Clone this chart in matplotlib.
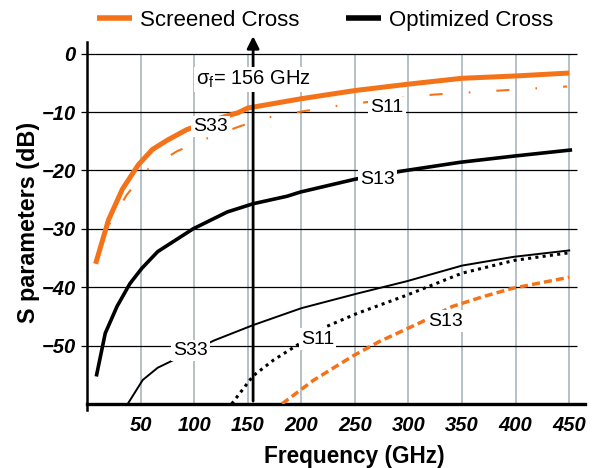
import matplotlib
matplotlib.use("Agg")
import matplotlib.pyplot as plt

plt.rcParams['font.family'] = ['Liberation Sans', 'DejaVu Sans']
plt.rcParams['mathtext.fontset'] = 'custom'
plt.rcParams['mathtext.rm'] = 'Liberation Sans'
plt.rcParams['mathtext.it'] = 'Liberation Sans:italic'

ORANGE = '#f47318'

# Screened cross
scr_s33_f = [8, 20, 33, 48, 61, 75, 93, 115, 141, 150, 200, 250, 300, 350, 400, 450]
scr_s33 = [-36, -28.5, -23.2, -19, -16.4, -14.8, -13, -11.5, -10.1, -9.3, -7.7, -6.3, -5.2, -4.2, -3.8, -3.3]
scr_s11_f = [8, 20, 37, 55, 84, 112, 143, 169, 200, 230, 256, 290, 323, 385, 448]
scr_s11 = [-35.5, -29.5, -24.2, -20, -16.7, -14.5, -12.4, -10.9, -9.9, -9.0, -8.4, -7.6, -7.0, -6.3, -5.6]
scr_s13_f = [182, 211, 248, 273, 313, 341, 370, 397, 450]
scr_s13 = [-60, -56, -51.8, -49.3, -45.9, -43.3, -41.6, -40.2, -38.3]

# Optimized cross
opt_s13_f = [9, 17, 28, 40, 51, 66, 99, 131, 155, 187, 199, 250, 294, 348, 400, 451]
opt_s13 = [-55, -47.9, -43.3, -39.4, -36.8, -33.9, -30, -27.1, -25.7, -24.4, -23.7, -21.5, -20.1, -18.6, -17.5, -16.5]
opt_s33_f = [38, 52, 66, 75, 97, 119, 155, 200, 252, 298, 350, 398, 450]
opt_s33 = [-60, -55.9, -53.8, -53, -51, -49.1, -46.5, -43.6, -41.1, -39, -36.3, -34.8, -33.7]
opt_s11_f = [135, 155, 174, 199, 215, 224, 252, 298, 350, 399, 450]
opt_s11 = [-60, -55.2, -52.5, -49.6, -48, -46.7, -44.5, -41.4, -37.6, -35.4, -34.1]

sigma_f = 155
xticks = [50, 100, 150, 200, 250, 300, 350, 400, 450]
yticks = [0, -10, -20, -30, -40, -50]

fig = plt.figure(figsize=(5.96, 4.68), dpi=100)
ax = fig.add_axes([0.146, 0.137, 0.836, 0.773])
ax.set_xlim(0, 465)
ax.set_ylim(-60, 2)

# grid: grey verticals, black horizontals
ax.vlines(xticks, -60, 0, colors='#a8b6bd', lw=1.2, zorder=1)
ax.hlines(yticks, 0, 457, colors='black', lw=0.9, zorder=1)

ax.plot(scr_s33_f, scr_s33, color=ORANGE, lw=3.6, solid_capstyle='butt', zorder=3)
ax.plot(scr_s11_f, scr_s11, color=ORANGE, lw=1.5, ls=(0, (6.3, 12.5, 0.8, 12.5)), zorder=3)
ax.plot(scr_s13_f, scr_s13, color=ORANGE, lw=2.5, ls=(0, (2.3, 1.2)), zorder=3)
ax.plot(opt_s13_f, opt_s13, color='black', lw=2.6, zorder=3)
ax.plot(opt_s33_f, opt_s33, color='black', lw=1.4, zorder=3)
ax.plot(opt_s11_f, opt_s11, color='black', lw=2.2, ls=(0, (1.0, 1.4)), zorder=3)

lab = dict(fontsize=14, ha='center', va='center', zorder=5,
           bbox=dict(facecolor='white', edgecolor='none', pad=1.5))
ax.text(115, -12.4, 'S33', **lab)
ax.text(280, -9.2, 'S11', **lab)
ax.text(271, -21.5, 'S13', **lab)
ax.text(97, -50.9, 'S33', **lab)
ax.text(215, -48.9, 'S11', **lab)
ax.text(335, -45.8, 'S13', **lab)

# cutoff marker
ax.annotate('', xy=(sigma_f, 3.5), xytext=(sigma_f, -60),
            arrowprops=dict(arrowstyle='-|>', color='black', lw=2, mutation_scale=18),
            annotation_clip=False, zorder=4)
ax.text(sigma_f, -4.4, r'$\mathrm{\sigma_f}$= 156 GHz', fontsize=14.5, ha='center', va='center', zorder=5,
        bbox=dict(facecolor='white', edgecolor='none', pad=1.0))

ax.spines['top'].set_visible(False)
ax.spines['right'].set_visible(False)
ax.spines['left'].set_linewidth(1.8)
ax.spines['bottom'].set_linewidth(2.4)
ax.spines['left'].set_bounds(-61, 2)

ax.set_xticks(xticks)
ax.set_yticks(yticks)
ax.tick_params(axis='x', length=0, pad=9)
ax.tick_params(axis='y', length=4, width=0.9, pad=4)
for t in ax.get_xticklabels() + ax.get_yticklabels():
    t.set_fontsize(14.5)
    t.set_fontweight('bold')
    t.set_fontstyle('italic')

ax.set_xlabel('Frequency (GHz)', fontsize=16.3, fontweight='bold')
ax.xaxis.set_label_coords(0.536, -0.115)
fig.text(0.047, 1 - 222 / 468, 'S parameters (dB)', rotation=90, ha='center', va='center',
         fontsize=16.8, fontweight='bold')

h1, = ax.plot([], [], color=ORANGE, lw=4, solid_capstyle='butt')
h2, = ax.plot([], [], color='black', lw=4, solid_capstyle='butt')
ax.legend([h1, h2], ['Screened Cross', 'Optimized Cross'], ncol=2, frameon=False,
          fontsize=16, loc='lower left', bbox_to_anchor=(0.02, 1.03),
          handlelength=1.58, handletextpad=0.36, columnspacing=2.1,
          borderaxespad=0, borderpad=0)

fig.savefig('out.png', dpi=100)
